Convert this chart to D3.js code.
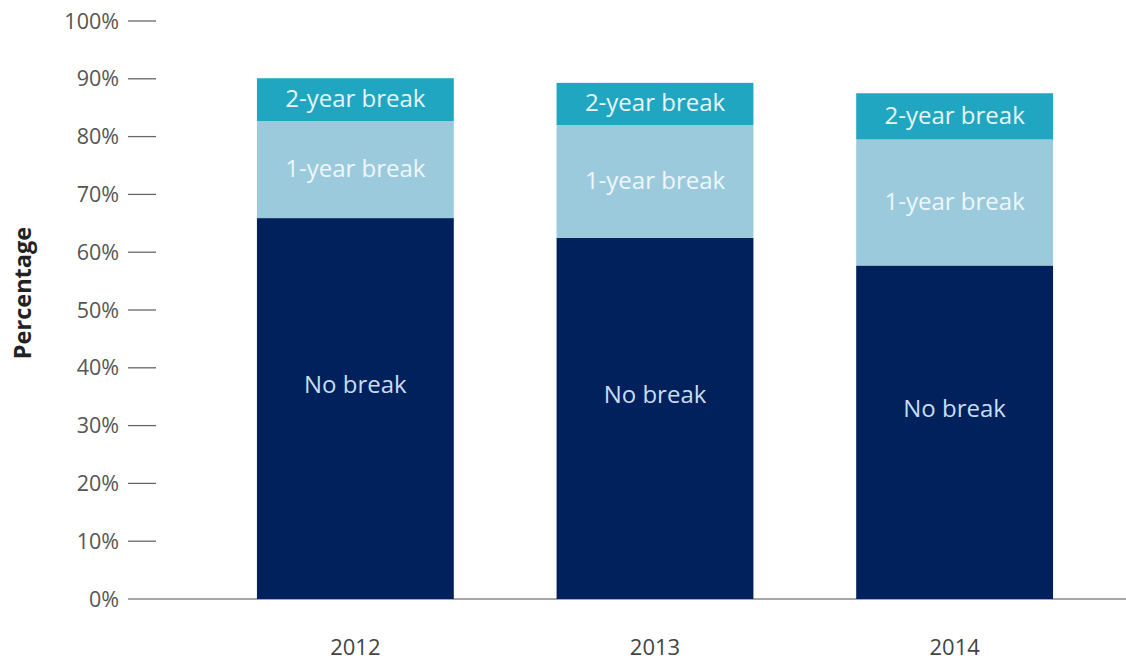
<!DOCTYPE html>
<html>
<head>
<meta charset="utf-8">
<script src="https://cdn.jsdelivr.net/npm/d3@7"></script>
<style>
  body { margin: 0; background: #fff; }
  svg { display: block; font-family: "Open Sans", sans-serif; }
</style>
</head>
<body>
<svg id="chart" width="1126" height="668"></svg>
<script>
// data
const years = ["2012", "2013", "2014"];
const noBreak = [65.9, 62.5, 57.7];
const oneYear = [16.8, 19.5, 21.8];
const twoYear = [7.4, 7.3, 8.0];
const seriesNames = ["No break", "1-year break", "2-year break"];
const yTicks = [0, 10, 20, 30, 40, 50, 60, 70, 80, 90, 100];

const colors = ["#00215b", "#9ccadd", "#21a6c1"];
const textColors = ["#c9ddf2", "#eef7fb", "#e6f6fa"];

const svg = d3.select("#chart");

let rows = years.map((y, i) => ({
    year: y,
    "No break": noBreak[i],
    "1-year break": oneYear[i],
    "2-year break": twoYear[i]
}));

let stack = d3.stack().keys(seriesNames);
let stacked = stack(rows);

let x = d3.scaleBand()
    .domain(years)
    .range([206, 1104])
    .paddingInner(0.343)
    .paddingOuter(0.17);

let y = d3.scaleLinear()
    .domain([0, 100])
    .range([599, 21]);

// y axis: labels + short dashes
let yAxis = svg.append("g").attr("class", "y-axis");
yAxis.selectAll("line")
    .data(yTicks.filter(d => d > 0))
    .enter().append("line")
    .attr("x1", 128).attr("x2", 156)
    .attr("y1", d => y(d)).attr("y2", d => y(d))
    .attr("stroke", "#666").attr("stroke-width", 1.3);

yAxis.selectAll("text")
    .data(yTicks)
    .enter().append("text")
    .attr("x", 119)
    .attr("y", d => y(d))
    .attr("dy", "0.35em")
    .attr("text-anchor", "end")
    .attr("font-size", 21.5)
    .attr("fill", "#555")
    .text(d => d + "%");

// baseline
svg.append("line")
    .attr("x1", 128).attr("x2", 1126)
    .attr("y1", y(0)).attr("y2", y(0))
    .attr("stroke", "#8a8a8a").attr("stroke-width", 1.5);

// bars
let layer = svg.selectAll(".layer")
    .data(stacked)
    .enter().append("g")
    .attr("class", "layer")
    .attr("fill", (d, i) => colors[i]);

layer.selectAll("rect")
    .data(d => d)
    .enter().append("rect")
    .attr("x", d => x(d.data.year))
    .attr("width", x.bandwidth())
    .attr("y", d => y(d[1]))
    .attr("height", d => y(d[0]) - y(d[1]));

// segment labels
stacked.forEach((s, i) => {
    svg.selectAll(".lbl" + i)
        .data(s)
        .enter().append("text")
        .attr("x", d => x(d.data.year) + x.bandwidth() / 2)
        .attr("y", d => {
            let mid = (y(d[0]) + y(d[1])) / 2;
            return i === 0 ? mid - 24 : mid - 1;
        })
        .attr("dy", "0.35em")
        .attr("text-anchor", "middle")
        .attr("font-size", 24)
        .attr("fill", textColors[i])
        .text(s.key);
});

// x labels
svg.selectAll(".year")
    .data(years)
    .enter().append("text")
    .attr("x", d => x(d) + x.bandwidth() / 2)
    .attr("y", 647)
    .attr("dy", "0.35em")
    .attr("text-anchor", "middle")
    .attr("font-size", 22)
    .attr("fill", "#444")
    .text(d => d);

// y title
svg.append("text")
    .attr("transform", "translate(31,293) rotate(-90)")
    .attr("text-anchor", "middle")
    .attr("font-size", 23.5)
    .attr("font-weight", "bold")
    .attr("fill", "#222")
    .text("Percentage");
</script>
</body>
</html>
